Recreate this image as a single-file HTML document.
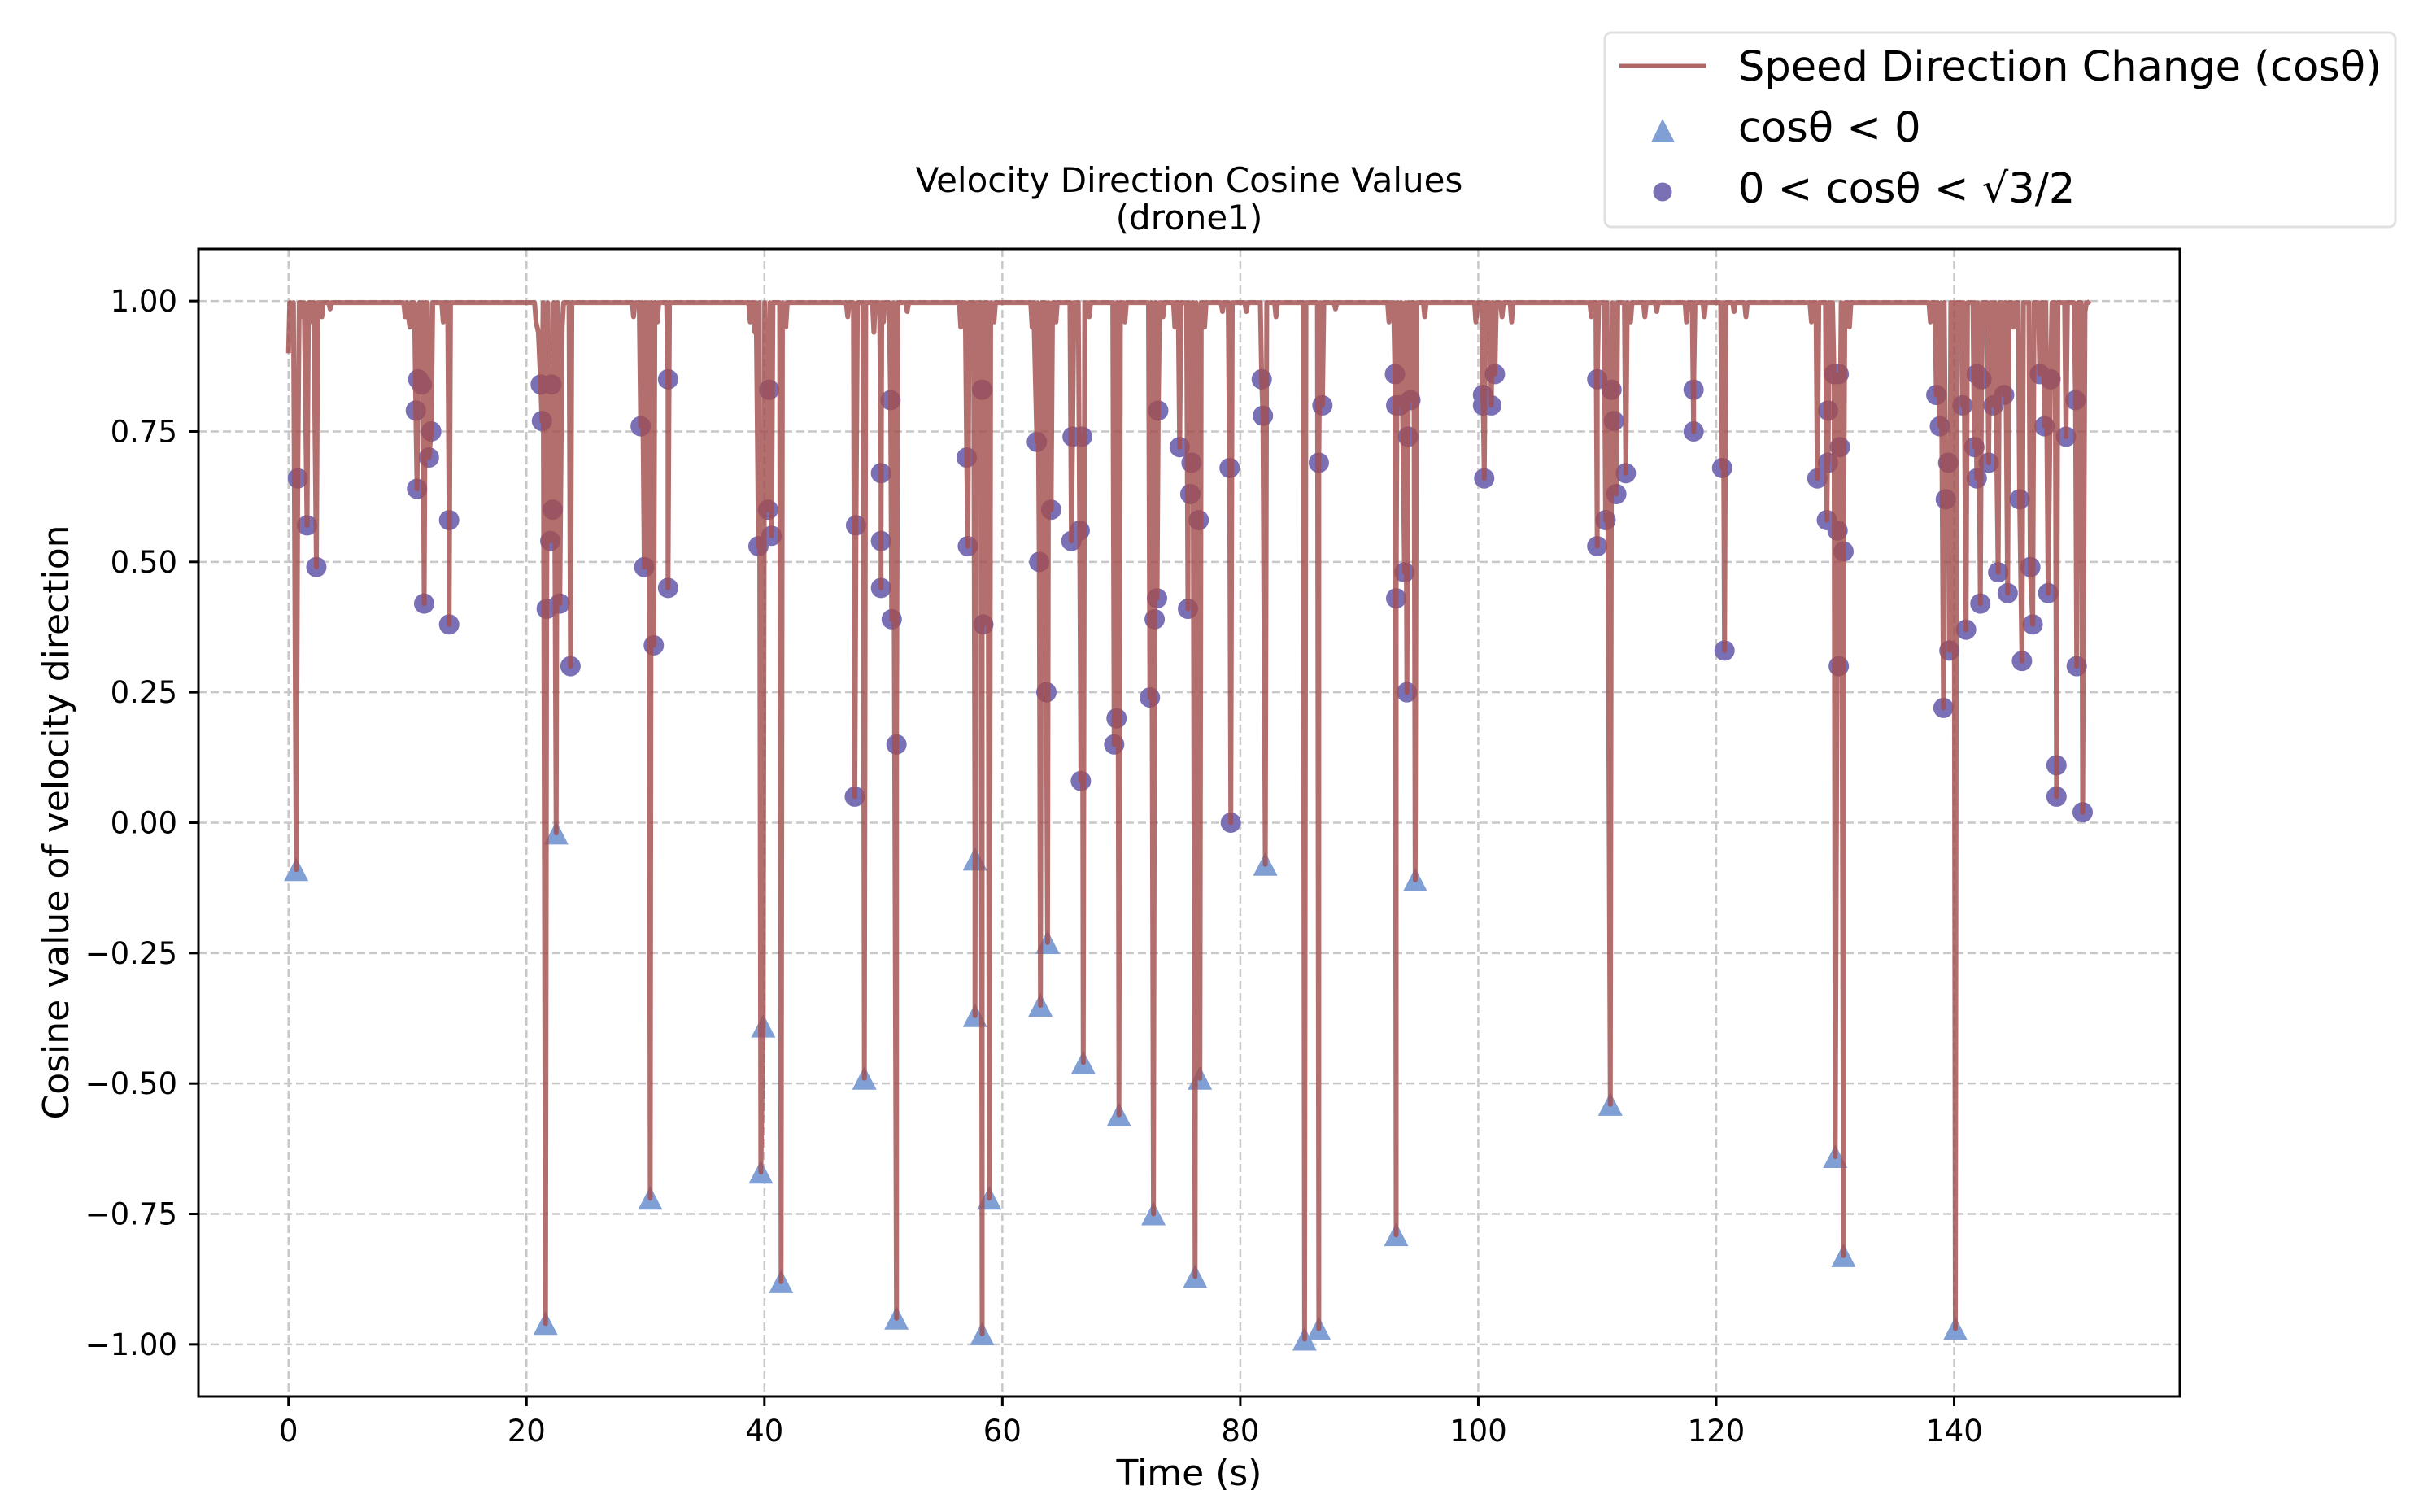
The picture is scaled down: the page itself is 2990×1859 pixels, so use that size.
<!DOCTYPE html>
<html><head><meta charset="utf-8"><style>
html,body{margin:0;padding:0;background:#fff;}
svg{display:block;font-family:"DejaVu Sans","Liberation Sans",sans-serif;}
</style></head><body>
<svg id="chart" width="2990" height="1859" viewBox="0 0 2990 1859" xmlns="http://www.w3.org/2000/svg">
<rect width="2990" height="1859" fill="#fff"/>
<g id="grid"></g>
<g id="marks"></g>
<rect x="244" y="306" width="2436" height="1411" fill="none" stroke="#000" stroke-width="3"/>
<g id="ticks"></g>
<text x="1462" y="236" font-size="42" text-anchor="middle">Velocity Direction Cosine Values</text>
<text x="1462" y="282" font-size="42" text-anchor="middle">(drone1)</text>
<text x="1462" y="1826" font-size="44" text-anchor="middle">Time (s)</text>
<text transform="translate(84,1011) rotate(-90)" font-size="44" text-anchor="middle">Cosine value of velocity direction</text>
<g>
<rect x="1973" y="40" width="972" height="239" rx="8" fill="#fff" stroke="#e0e0e0" stroke-width="3"/>
<line x1="1991" y1="81" x2="2097" y2="81" stroke="#b06666" stroke-width="5"/>
<text x="2137" y="99" font-size="51">Speed Direction Change (cosθ)</text>
<polygon points="2044,146 2030,175 2059,175" fill="#809fd4"/>
<text x="2137" y="174" font-size="51">cosθ &lt; 0</text>
<circle cx="2044" cy="236" r="11.5" fill="#7a70b5"/>
<text x="2137" y="249" font-size="51">0 &lt; cosθ &lt; √3/2</text>
</g>
</svg>
<script>
const xTicks=[0,20,40,60,80,100,120,140];
const yTicks=[1.00,0.75,0.50,0.25,0.00,-0.25,-0.50,-0.75,-1.00];
const yTickLabels=["1.00","0.75","0.50","0.25","0.00","\u22120.25","\u22120.50","\u22120.75","\u22121.00"];
const triT=[0.65,21.6,22.5,30.4,39.7,39.9,41.4,48.4,51.1,57.7,57.7,58.3,58.9,63.2,63.8,66.8,69.8,72.7,76.2,76.6,82.1,85.4,86.6,93.1,94.7,111.1,130.0,130.7,140.1];
const triV=[-0.09,-0.96,-0.02,-0.72,-0.67,-0.39,-0.88,-0.49,-0.95,-0.07,-0.37,-0.98,-0.72,-0.35,-0.23,-0.46,-0.56,-0.75,-0.87,-0.49,-0.08,-0.99,-0.97,-0.79,-0.11,-0.54,-0.64,-0.83,-0.97];
const cirT=[0.78,1.56,2.34,10.7,10.9,11.2,10.8,11.4,11.8,12.0,13.5,13.5,21.2,21.3,21.7,22.0,22.1,22.2,22.8,23.7,29.6,29.9,30.7,31.9,31.9,39.5,40.3,40.6,40.4,47.6,47.7,49.8,49.8,49.8,50.6,50.7,51.1,57.0,57.1,58.3,58.4,62.9,63.1,63.7,64.1,65.8,65.9,66.5,66.7,66.6,69.6,69.4,72.4,72.8,73.0,73.1,74.9,75.6,75.8,75.9,76.5,79.1,79.2,81.8,81.9,86.6,86.9,93.0,93.1,93.1,93.4,93.8,94.0,94.1,94.3,100.4,100.4,100.5,101.1,101.4,110.0,110.0,110.7,111.2,111.4,111.6,112.4,118.1,118.1,120.5,120.7,128.5,129.3,129.4,129.4,129.9,130.2,130.3,130.3,130.4,130.7,138.5,138.8,139.1,139.5,139.3,139.6,140.7,141.0,141.7,141.9,141.9,142.2,142.3,142.9,143.3,143.7,144.2,144.5,145.5,145.7,146.4,146.6,147.2,147.6,147.9,148.1,148.6,148.6,149.4,150.2,150.3,150.8];
const cirV=[0.66,0.57,0.49,0.79,0.85,0.84,0.64,0.42,0.70,0.75,0.58,0.38,0.84,0.77,0.41,0.54,0.84,0.60,0.42,0.30,0.76,0.49,0.34,0.85,0.45,0.53,0.60,0.55,0.83,0.05,0.57,0.67,0.45,0.54,0.81,0.39,0.15,0.70,0.53,0.83,0.38,0.73,0.50,0.25,0.60,0.54,0.74,0.56,0.74,0.08,0.20,0.15,0.24,0.39,0.43,0.79,0.72,0.41,0.63,0.69,0.58,0.68,0.00,0.85,0.78,0.69,0.80,0.86,0.80,0.43,0.80,0.48,0.25,0.74,0.81,0.80,0.82,0.66,0.80,0.86,0.53,0.85,0.58,0.83,0.77,0.63,0.67,0.75,0.83,0.68,0.33,0.66,0.58,0.79,0.69,0.86,0.56,0.30,0.86,0.72,0.52,0.82,0.76,0.22,0.69,0.62,0.33,0.80,0.37,0.72,0.66,0.86,0.42,0.85,0.69,0.80,0.48,0.82,0.44,0.62,0.31,0.49,0.38,0.86,0.76,0.44,0.85,0.11,0.05,0.74,0.81,0.30,0.02];
const dipT=[0,0.3,1.2,2.0,2.8,3.5,9.8,10.2,13.0,20.8,21.0,23.0,29.0,31.0,38.8,39.2,41.8,47.0,49.2,50.0,52,56.5,59.3,62.5,64.5,67.3,70.3,73.5,74.5,77,78.5,80.5,83,88,92.5,95.5,99.8,102,102.8,109.5,112.8,114,115,117.5,119,121.5,122.5,128,131.2,138,145,151,151.4];
const dipV=[0.90,0.99,0.97,0.96,0.97,0.985,0.97,0.95,0.96,0.96,0.94,0.95,0.97,0.96,0.96,0.94,0.95,0.97,0.94,0.96,0.98,0.95,0.96,0.95,0.96,0.97,0.96,0.97,0.95,0.95,0.98,0.98,0.97,0.985,0.96,0.97,0.96,0.97,0.96,0.97,0.96,0.97,0.98,0.96,0.97,0.98,0.97,0.96,0.95,0.96,0.95,0.98,1.0];
const baseLevel=0.997;

const X0=244,X1=2680,Y0=306,Y1=1717,xmin=-7.57,xmax=158.97,ymin=-1.1,ymax=1.1;
const sx=t=>X0+(t-xmin)/(xmax-xmin)*(X1-X0);
const sy=v=>Y1-(v-ymin)/(ymax-ymin)*(Y1-Y0);
const NS="http://www.w3.org/2000/svg";
const mk=(tag,attrs,parent)=>{const e=document.createElementNS(NS,tag);for(const k in attrs)e.setAttribute(k,attrs[k]);parent.appendChild(e);return e;};
const grid=document.getElementById('grid'),ticks=document.getElementById('ticks'),marks=document.getElementById('marks');
xTicks.forEach(t=>{
  const g=mk('line',{x1:sx(t),x2:sx(t),y1:Y0,y2:Y1,stroke:'#c8c8c8','stroke-width':2.5,'stroke-dasharray':'10,5'},grid);
  
  
  const tk=mk('line',{x1:sx(t),x2:sx(t),y1:Y1,y2:Y1+12,stroke:'#000','stroke-width':3},ticks);
  
  
  const lb=mk('text',{x:sx(t),y:Y1+55,'font-size':37,'text-anchor':'middle'},ticks);
  lb.textContent=String(t);
  
  
});
yTicks.forEach((v,i)=>{
  const g=mk('line',{x1:X0,x2:X1,y1:sy(v),y2:sy(v),stroke:'#c8c8c8','stroke-width':2.5,'stroke-dasharray':'10,5'},grid);
  
  
  const tk=mk('line',{x1:X0-12,x2:X0,y1:sy(v),y2:sy(v),stroke:'#000','stroke-width':3},ticks);
  
  
  const lb=mk('text',{x:X0-26,y:sy(v)+13,'font-size':37,'text-anchor':'end'},ticks);
  lb.textContent=yTickLabels[i];
  
  
});
triT.forEach((t,i)=>{
  const x=sx(t),y=sy(triV[i]);
  const p=mk('polygon',{points:`${x},${y-15} ${x-15},${y+14} ${x+15},${y+14}`,fill:'#809fd4'},marks);
  
  
});
cirT.forEach((t,i)=>{
  const c=mk('circle',{cx:sx(t),cy:sy(cirV[i]),r:12.5,fill:'#7a70b5'},marks);
  
  
});
let pts=[];
triT.forEach((t,i)=>pts.push([t,triV[i]]));
cirT.forEach((t,i)=>pts.push([t,cirV[i]]));
dipT.forEach((t,i)=>pts.push([t,dipV[i]]));
pts.sort((a,b)=>a[0]-b[0]);
let seq=[];
for(let i=0;i<pts.length;i++){
  seq.push(pts[i]);
  if(i<pts.length-1){const gap=pts[i+1][0]-pts[i][0];
    if(gap>0.2) seq.push([pts[i][0]+Math.min(0.12,gap/3),baseLevel]);
    if(gap>0.4) seq.push([pts[i+1][0]-0.12,baseLevel]);}
}
const d=seq.map((p,i)=>(i?'L':'M')+sx(p[0]).toFixed(1)+','+sy(p[1]).toFixed(1)).join('');
const ln=mk('path',{d:d,fill:'none',stroke:'#a24e4e','stroke-opacity':0.82,'stroke-width':6,'stroke-linejoin':'round'},marks);


</script>
</body></html>
